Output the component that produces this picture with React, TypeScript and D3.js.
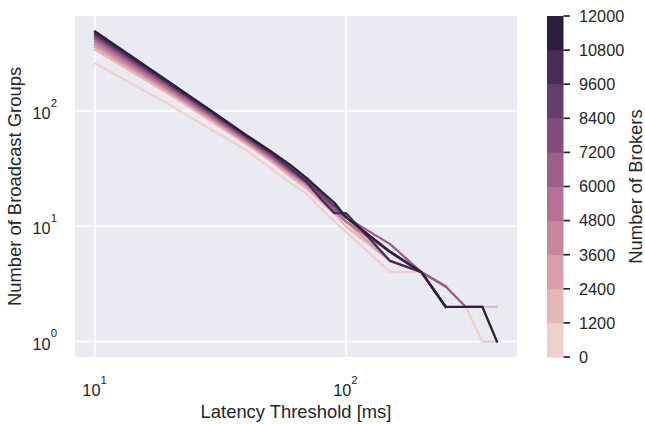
import React from "react";
import * as d3 from "d3";

// latency thresholds [ms] on the x axis
const latency = [10, 20, 30, 40, 50, 60, 70, 80, 90, 100, 150, 200, 250, 300, 350, 400];

// number of brokers, one line each (light -> dark)
const brokers = [1200, 2400, 3600, 4800, 6000, 7200, 8400, 9600, 10800, 12000];

// number of broadcast groups per latency threshold (null = no point)
const groups1200 = [260, 112, 66, 46, 32, 24, 19, 14, 11, 9, 4, 4, 3, 2, 1, 1];
const groups2400 = [342, 138, 78, 52, 37, 27, 21, 16, 13, 10, 5, 4, 3, 2, 2, 2];
const groups3600 = [360, 144, 81, 53, 38, 28, 22, 17, 13, 11, 5, 4, 3, null, null, null];
const groups4800 = [378, 148, 83, 55, 39, 29, 23, 17, 14, 11, 6, 4, 3, null, null, null];
const groups6000 = [398, 153, 85, 56, 40, 30, 23, 18, 14, 11, 6, 4, 3, null, null, null];
const groups7200 = [418, 158, 88, 57, 41, 30, 24, 18, 14, 12, 7, 4, 3, 2, 2, null];
const groups8400 = [438, 162, 90, 59, 42, 31, 24, 18, 15, 12, 6, 4, 2, null, null, null];
const groups9600 = [456, 167, 92, 60, 43, 32, 25, 19, 15, 12, 6, 4, 2, null, null, null];
const groups10800 = [472, 171, 94, 61, 44, 32, 24, 17, 13, 13, 5, 4, 2, null, null, null];
const groups12000 = [490, 175, 96, 62, 45, 34, 26, 20, 16, 12, 6, 4, 2, 2, 2, 1];

const series = [
  groups1200, groups2400, groups3600, groups4800, groups6000,
  groups7200, groups8400, groups9600, groups10800, groups12000,
];

const xTicks = [10, 100];
const yTicks = [1, 10, 100];
const colorbarTicks = [0, 1200, 2400, 3600, 4800, 6000, 7200, 8400, 9600, 10800, 12000];

const FONT = "'Liberation Sans', Arial, Helvetica, sans-serif";
const TEXT = "#262626";
const TICK_SIZE = 16.3;
const LABEL_SIZE = 18.4;

// seaborn's default cubehelix palette (light=0.85, dark=0.15)
function cubehelix(t: number) {
  const x = 0.85 + (0.15 - 0.85) * t;
  const a = (0.8 * x * (1 - x)) / 2;
  const phi = 2 * Math.PI * (0.4 * x);
  const c = Math.cos(phi);
  const s = Math.sin(phi);
  const r = x + a * (-0.14861 * c + 1.78277 * s);
  const g = x + a * (-0.29227 * c - 0.90649 * s);
  const b = x + a * (1.97294 * c);
  const clip = (v: number) => Math.round(Math.max(0, Math.min(1, v)) * 255);
  return d3.rgb(clip(r), clip(g), clip(b)).formatHex();
}

function padLog([lo, hi]: number[]) {
  const l = Math.log10(lo);
  const h = Math.log10(hi);
  const p = (h - l) * 0.05;
  return [Math.pow(10, l - p), Math.pow(10, h + p)];
}

function Pow10({ x, y, exp, anchor }: { x: number; y: number; exp: number; anchor: string }) {
  return (
    <text x={x} y={y} textAnchor={anchor} fontSize={TICK_SIZE} fill={TEXT} fontFamily={FONT}>
      <tspan>10</tspan>
      <tspan fontSize={TICK_SIZE * 0.7} dy={-12.5}>{exp}</tspan>
    </text>
  );
}

export default function App() {
  const width = 645;
  const height = 424;
  const left = 75;
  const right = 517;
  const top = 16;
  const bottom = 357;

  const allValues = series.flat().filter((v) => v != null) as number[];

  const x = d3.scaleLog().domain(padLog(d3.extent(latency) as number[])).range([left, right]);
  const y = d3
    .scaleLog()
    .domain(padLog([d3.min(allValues) as number, d3.max(allValues) as number]))
    .range([bottom, top]);

  const hueNorm = d3.scaleLinear().domain(d3.extent(brokers) as number[]).range([0, 1]);

  const line = d3
    .line<number | null>()
    .defined((d) => d != null)
    .x((_, i) => x(latency[i]))
    .y((d) => y(d as number));

  // colorbar
  const cbLeft = 547;
  const cbRight = 563.5;
  const cb = d3.scaleLinear().domain([0, 12000]).range([bottom, top]);
  const nBands = colorbarTicks.length - 1;

  return (
    <svg width={width} height={height} style={{ position: "absolute", left: 0, top: 0 }}>
      <defs>
        <clipPath id="plot-clip">
          <rect x={left} y={top} width={right - left} height={bottom - top} />
        </clipPath>
      </defs>
      <rect x={0} y={0} width={width} height={height} fill="white" />
      <rect x={left} y={top} width={right - left} height={bottom - top} fill="#eaeaf2" />

      {xTicks.map((t) => (
        <line key={"gx" + t} x1={x(t)} x2={x(t)} y1={top} y2={bottom} stroke="white" strokeWidth={1.5} />
      ))}
      {yTicks.map((t) => (
        <line key={"gy" + t} x1={left} x2={right} y1={y(t)} y2={y(t)} stroke="white" strokeWidth={1.5} />
      ))}

      <g clipPath="url(#plot-clip)">
        {series.map((s, i) => (
          <path
            key={brokers[i]}
            d={line(s) as string}
            fill="none"
            stroke={cubehelix(hueNorm(brokers[i]))}
            strokeWidth={2.3}
            strokeLinejoin="round"
            strokeLinecap="square"
          />
        ))}
      </g>

      {xTicks.map((t) => (
        <Pow10 key={"tx" + t} x={x(t) - 0.5} y={396} exp={Math.round(Math.log10(t))} anchor="middle" />
      ))}
      {yTicks.map((t) => (
        <Pow10 key={"ty" + t} x={57} y={y(t) + 8} exp={Math.round(Math.log10(t))} anchor="end" />
      ))}

      <text x={(left + right) / 2} y={418} textAnchor="middle" fontSize={LABEL_SIZE} fill={TEXT} fontFamily={FONT}>
        Latency Threshold [ms]
      </text>
      <text
        transform={`translate(21, ${(top + bottom) / 2}) rotate(-90)`}
        textAnchor="middle"
        fontSize={LABEL_SIZE}
        fill={TEXT}
        fontFamily={FONT}
      >
        Number of Broadcast Groups
      </text>

      {d3.range(nBands).map((i) => (
        <rect
          key={"band" + i}
          x={cbLeft}
          y={cb(colorbarTicks[i + 1])}
          width={cbRight - cbLeft}
          height={cb(colorbarTicks[i]) - cb(colorbarTicks[i + 1]) + 0.5}
          fill={cubehelix(i / (nBands - 1))}
        />
      ))}
      {colorbarTicks.map((t) => (
        <g key={"cb" + t}>
          <line x1={cbRight} x2={cbRight + 6.5} y1={cb(t)} y2={cb(t)} stroke={TEXT} strokeWidth={1.7} />
          <text x={579} y={cb(t) + 5.8} fontSize={TICK_SIZE} fill={TEXT} fontFamily={FONT}>
            {t}
          </text>
        </g>
      ))}
      <text
        transform={`translate(642, ${(top + bottom) / 2}) rotate(-90)`}
        textAnchor="middle"
        fontSize={LABEL_SIZE}
        fill={TEXT}
        fontFamily={FONT}
      >
        Number of Brokers
      </text>
    </svg>
  );
}
